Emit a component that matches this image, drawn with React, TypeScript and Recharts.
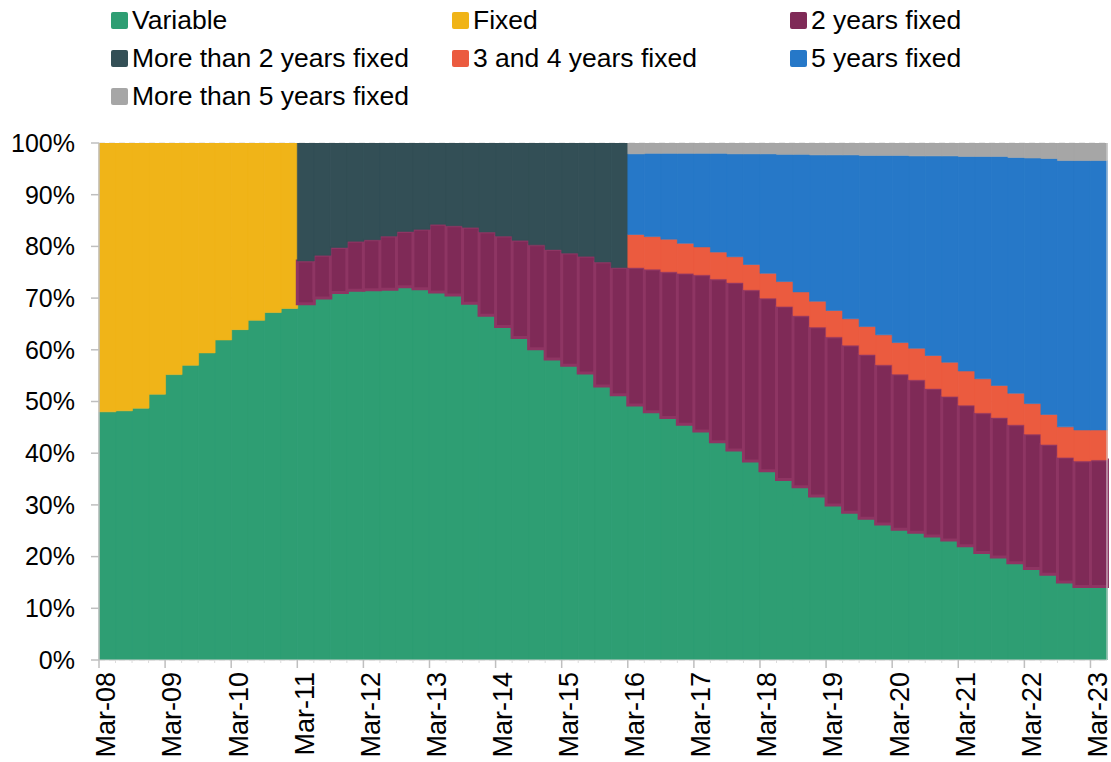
import { Bar, BarChart, CartesianGrid, XAxis, YAxis } from "recharts";

const months = ["Mar", "Jun", "Sep", "Dec"];
const years = ["08", "09", "10", "11", "12", "13", "14", "15", "16", "17", "18", "19", "20", "21", "22", "23"];
const quarters = years.flatMap((y) => months.map((m) => `${m}-${y}`)).slice(0, 61);

// shares in %, one value per quarter (null where the category was not reported)
const variable = [
  48.0, 48.2, 48.7, 51.4, 55.2, 57.0, 59.4, 61.9, 63.9, 65.7, 67.2, 68.0,
  68.9, 70.0, 71.1, 71.5, 71.6, 71.7, 72.2, 71.8,
  71.2, 70.6, 69.0, 66.7, 64.5, 62.4, 60.2, 58.2, 57.0, 55.5, 53.0, 51.3,
  49.3, 48.0, 46.9, 45.6, 44.3, 42.2, 40.6, 38.5, 36.6, 34.9, 33.5, 31.7, 30.0, 28.6,
  27.4, 26.3, 25.3, 24.7, 24.0, 23.2, 22.1, 20.8, 19.9, 18.8, 17.7, 16.6, 15.1, 14.2, 14.2,
];
const fixed = [52.0, 51.8, 51.3, 48.6, 44.8, 43.0, 40.6, 38.1, 36.1, 34.3, 32.8, 32.0];
const twoYears = [
  null, null, null, null, null, null, null, null, null, null, null, null,
  8.3, 8.3, 8.7, 9.5, 9.7, 10.3, 10.7, 11.5,
  13.1, 13.4, 14.7, 16.1, 17.5, 18.8, 20.1, 21.2, 21.7, 22.6, 24.0, 24.6,
  26.6, 27.6, 28.2, 29.2, 30.2, 31.5, 32.4, 33.1, 33.4, 33.5, 33.1, 32.7, 32.5, 32.3,
  31.7, 30.8, 30.0, 29.5, 28.5, 27.8, 27.2, 27.0, 27.0, 26.7, 26.0, 25.1, 24.1, 24.3, 24.5,
];
const moreThanTwo = [
  22.8, 21.7, 20.2, 19.0, 18.7, 18.0, 17.1, 16.7,
  15.7, 16.0, 16.3, 17.2, 18.0, 18.8, 19.7, 20.6, 21.3, 21.9, 23.0, 24.1,
];
const threeFour = [
  6.4, 6.3, 6.3, 5.8, 5.4, 5.2, 5.0, 4.9, 4.8, 4.8, 4.6, 5.0, 5.1, 5.1,
  5.4, 5.8, 6.1, 6.1, 6.4, 6.6, 6.6, 6.6, 6.2, 6.1, 5.9, 5.8, 5.9, 6.0, 5.8,
];
const fiveYears = [
  15.6, 16.1, 16.6, 17.4, 18.1, 19.1, 19.9, 21.4, 23.1, 24.6, 26.6, 28.3, 30.1, 31.7,
  33.1, 34.7, 36.2, 37.2, 38.6, 39.9, 41.5, 43.0, 44.3, 45.6, 47.5, 49.5, 51.5, 52.1, 52.1,
];
const moreThanFive = [
  2.1, 2.0, 2.0, 2.0, 2.0, 2.0, 2.1, 2.1, 2.1, 2.2, 2.2, 2.3, 2.3, 2.3,
  2.4, 2.4, 2.4, 2.5, 2.5, 2.5, 2.6, 2.6, 2.6, 2.8, 2.9, 3.0, 3.4, 3.4, 3.4,
];
const yTicks = [0, 10, 20, 30, 40, 50, 60, 70, 80, 90, 100];

const series = [
  { key: "variable", name: "Variable", color: "#2e9e73" },
  { key: "fixed", name: "Fixed", color: "#f0b418" },
  { key: "twoYears", name: "2 years fixed", color: "#7f2a57" },
  { key: "moreThanTwo", name: "More than 2 years fixed", color: "#334f56" },
  { key: "threeFour", name: "3 and 4 years fixed", color: "#eb5b3f" },
  { key: "fiveYears", name: "5 years fixed", color: "#2678c8" },
  { key: "moreThanFive", name: "More than 5 years fixed", color: "#a6a6a6" },
];

const data = quarters.map((q, i) => ({
  q,
  variable: variable[i],
  fixed: i < 12 ? fixed[i] : null,
  twoYears: twoYears[i],
  moreThanTwo: i >= 12 && i < 32 ? moreThanTwo[i - 12] : null,
  threeFour: i >= 32 ? threeFour[i - 32] : null,
  fiveYears: i >= 32 ? fiveYears[i - 32] : null,
  moreThanFive: i >= 32 ? moreThanFive[i - 32] : null,
}));

const FONT = "'Liberation Sans', Arial, sans-serif";
const WIDTH = 1111;
const HEIGHT = 762;

function QuarterTick(props: any) {
  const { x, y, payload } = props;
  const label: string = payload.value;
  const half = payload.offset ?? 8.26;
  const axisY = y - 12;
  const left = x - half;
  const major = label.startsWith("Mar");
  return (
    <g>
      <line
        x1={left}
        x2={left}
        y1={axisY}
        y2={axisY + (major ? 8 : 3)}
        stroke={major ? "#bfbfbf" : "#dcdcdc"}
        strokeWidth={major ? 1.5 : 1}
      />
      {major && (
        <text
          x={x}
          y={y}
          transform={`rotate(-90, ${x}, ${y})`}
          textAnchor="end"
          dy="0.3em"
          fontSize={27}
          fontFamily={FONT}
          fill="#000"
        >
          {label}
        </text>
      )}
    </g>
  );
}

function LegendBlock() {
  return (
    <div
      style={{
        position: "absolute",
        top: 1,
        left: 111,
        display: "grid",
        gridTemplateColumns: "341px 338px 300px",
        fontFamily: FONT,
        fontSize: 26.5,
        lineHeight: "38px",
        color: "#000",
        zIndex: 1,
      }}
    >
      {series.map((s) => (
        <div key={s.key} style={{ display: "flex", alignItems: "center", height: 38, whiteSpace: "nowrap" }}>
          <span
            style={{
              display: "inline-block",
              width: 17,
              height: 17,
              borderRadius: 2,
              background: s.color,
              marginRight: 4,
            }}
          />
          <span>{s.name}</span>
        </div>
      ))}
    </div>
  );
}

export default function App() {
  return (
    <div style={{ position: "absolute", left: 0, top: 0, width: WIDTH, height: HEIGHT, overflow: "hidden", background: "#fff" }}>
      <LegendBlock />
      <BarChart
        width={WIDTH}
        height={HEIGHT}
        data={data}
        margin={{ top: 143, right: 0, bottom: 0, left: 0 }}
        barCategoryGap={0}
        barGap={0}
      >
        <CartesianGrid vertical={false} stroke="#d9d9d9" strokeDasharray="6 4" yAxisId="left" />
        <XAxis
          dataKey="q"
          interval={0}
          height={102}
          tickLine={false}
          tickSize={8}
          tickMargin={4}
          axisLine={{ stroke: "#d0d0d0" }}
          tick={<QuarterTick />}
        />
        <YAxis
          yAxisId="left"
          domain={[0, 100]}
          ticks={yTicks}
          width={99}
          tickSize={8}
          tickMargin={16}
          tickFormatter={(v) => `${v}%`}
          axisLine={{ stroke: "#bfbfbf", strokeWidth: 1.5 }}
          tickLine={{ stroke: "#bfbfbf", strokeWidth: 1.5 }}
          tick={{ fill: "#000", fontSize: 25, fontFamily: FONT }}
          allowDataOverflow
        />
        <YAxis
          yAxisId="right"
          orientation="right"
          domain={[0, 100]}
          ticks={yTicks}
          width={4}
          tickSize={4}
          tick={false}
          axisLine={{ stroke: "#d9d9d9" }}
          tickLine={{ stroke: "#d9d9d9" }}
        />
        {series.map((s) => (
          <Bar
            key={s.key}
            yAxisId="left"
            dataKey={s.key}
            name={s.name}
            stackId="share"
            fill={s.color}
            stroke={s.key === "twoYears" ? "#8e3563" : s.color}
            strokeWidth={s.key === "twoYears" ? 3 : 0.6}
            isAnimationActive={false}
          />
        ))}
      </BarChart>
    </div>
  );
}
